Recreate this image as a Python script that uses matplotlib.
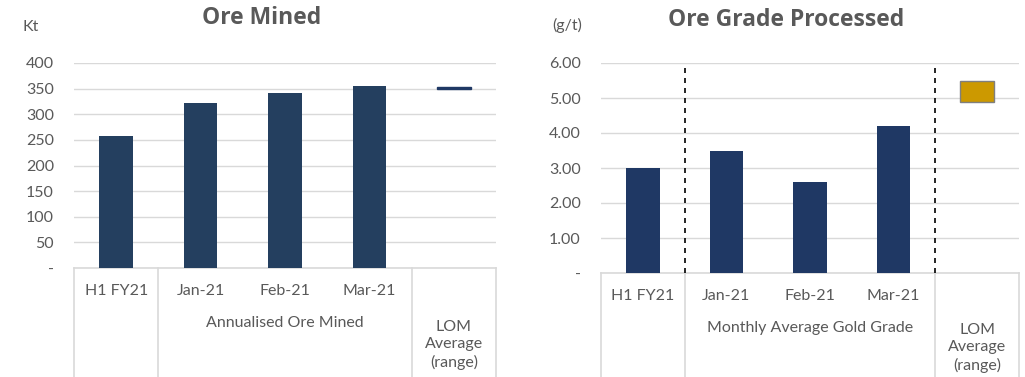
import matplotlib
matplotlib.use("Agg")
import matplotlib.pyplot as plt
import matplotlib.transforms as mtransforms

plt.rcParams["font.family"] = ["Lato", "DejaVu Sans"]

# ---- data ----
mined_cats = ["H1 FY21", "Jan-21", "Feb-21", "Mar-21"]
mined_vals = [258, 321, 341, 355]
mined_lom = (350, 354)          # LOM average range, Kt
mined_group = "Annualised Ore Mined"
mined_ticks = [0, 50, 100, 150, 200, 250, 300, 350, 400]

grade_cats = ["H1 FY21", "Jan-21", "Feb-21", "Mar-21"]
grade_vals = [3.0, 3.5, 2.6, 4.2]
grade_lom = (4.9, 5.5)          # LOM average range, g/t
grade_group = "Monthly Average Gold Grade"
grade_ticks = [0, 1, 2, 3, 4, 5, 6]

lom_label = "LOM\nAverage\n(range)"

GRAY = "#595959"
GRID = "#D9D9D9"


def draw_panel(fig, ax, cats, vals, lom, group, ticks, fmt, bar_color,
               lom_color, lom_edge, title, unit, title_xy, unit_xy, dashed,
               lom_off):
    n = len(cats) + 1
    x = list(range(len(cats)))
    ax.bar(x, vals, width=0.4, color=bar_color, zorder=3)
    ax.bar([len(cats)], [lom[1] - lom[0]], bottom=[lom[0]], width=0.4,
           color=lom_color, edgecolor=lom_edge, linewidth=1, zorder=3)
    ax.set_xlim(-0.5, n - 0.5)
    ax.set_ylim(ticks[0], ticks[-1])
    ax.set_yticks(ticks)
    ax.set_yticklabels(["-" if t == 0 else fmt.format(t) for t in ticks])
    ax.tick_params(axis="y", length=0, pad=14.5, labelsize=11.5,
                   labelcolor=GRAY)
    ax.set_xticks([])
    ax.grid(axis="y", color=GRID, linewidth=1, zorder=0)
    for s in ["top", "right", "left"]:
        ax.spines[s].set_visible(False)
    ax.spines["bottom"].set_color(GRID)
    ax.spines["bottom"].set_linewidth(1.2)

    xt = ax.get_xaxis_transform()
    # category boxes below the axis
    for b in [-0.5, 0.5, len(cats) - 0.5, n - 0.5]:
        ax.plot([b, b], [0, -1.0], transform=xt, color=GRID, linewidth=1.2,
                clip_on=False)
    if dashed:
        for b in [0.5, len(cats) - 0.5]:
            ax.plot([b, b], [0, 1], transform=xt, color="black",
                    linewidth=1.2, linestyle=(0, (3, 3)), zorder=4)

    t1 = mtransforms.offset_copy(xt, fig=fig, y=-23, units="dots")
    t2 = mtransforms.offset_copy(xt, fig=fig, y=-55, units="dots")
    t3 = mtransforms.offset_copy(xt, fig=fig, y=lom_off, units="dots")
    for i, c in enumerate(cats):
        ax.text(i, 0, c, transform=t1, ha="center", va="center",
                fontsize=11.5, color=GRAY)
    ax.text((len(cats)) / 2.0, 0, group, transform=t2, ha="center",
            va="center", fontsize=11.5, color=GRAY)
    ax.text(len(cats), 0, lom_label, transform=t3, ha="center",
            va="center", fontsize=11.5, color=GRAY, linespacing=1.3)

    fig.text(title_xy[0], title_xy[1], title, ha="center", va="center",
             fontsize=16.5, fontweight="bold", color=GRAY, family="Open Sans")
    fig.text(unit_xy[0], unit_xy[1], unit, ha="left", va="center",
             fontsize=11.5, color=GRAY)


W, H = 1025, 377
fig = plt.figure(figsize=(W / 100, H / 100), dpi=100)

ax1 = fig.add_axes([74 / W, 1 - 268 / H, 422 / W, 205 / H])
ax2 = fig.add_axes([601 / W, 1 - 273 / H, 418 / W, 210 / H])

draw_panel(fig, ax1, mined_cats, mined_vals, mined_lom, mined_group,
           mined_ticks, "{:.0f}", "#243F5F", "#1F3864", "#1F3864",
           "Ore Mined", "Kt", (262 / W, 1 - 18 / H), (22 / W, 1 - 27 / H),
           dashed=False, lom_off=-77)
draw_panel(fig, ax2, grade_cats, grade_vals, grade_lom, grade_group,
           grade_ticks, "{:.2f}", "#1F3864", "#CC9900", "#7F7F7F",
           "Ore Grade Processed", "(g/t)", (786 / W, 1 - 20 / H),
           (552 / W, 1 - 25 / H), dashed=True, lom_off=-75)

fig.savefig("out.png", dpi=100)
